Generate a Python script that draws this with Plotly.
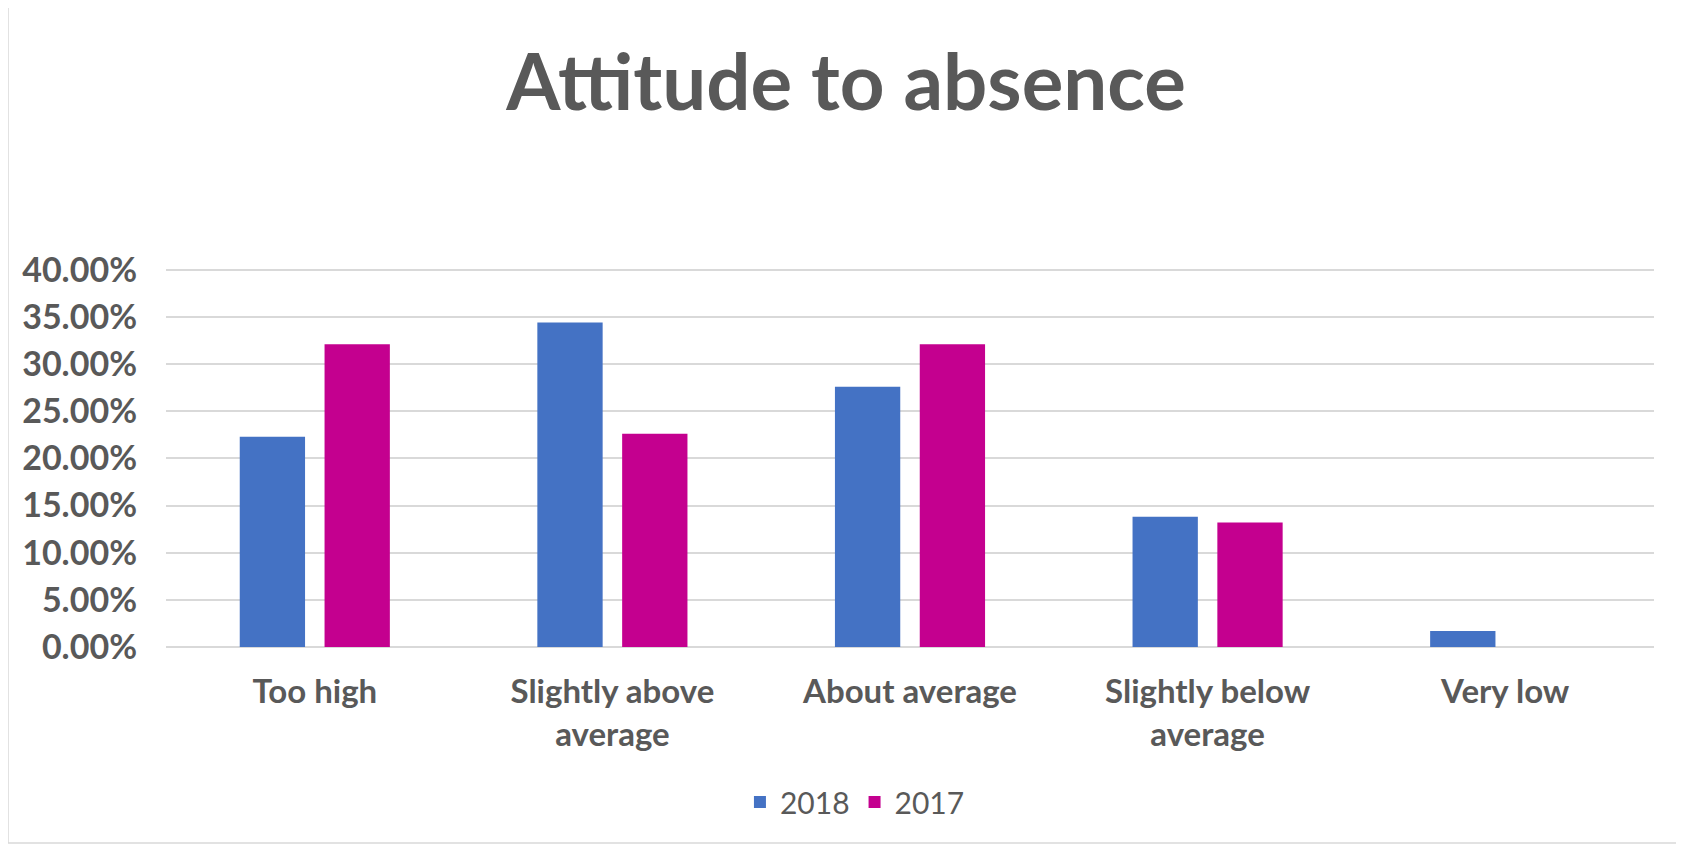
import plotly.graph_objects as go

categories = ["Too high", "Slightly above<br>average", "About average", "Slightly below<br>average", "Very low"]
series_names = ["2018", "2017"]
values_2018 = [0.223, 0.344, 0.276, 0.138, 0.017]
values_2017 = [0.321, 0.226, 0.321, 0.132, 0.0]
y_ticks = [0, 0.05, 0.1, 0.15, 0.2, 0.25, 0.3, 0.35, 0.4]
colors = ["#4472C4", "#C4008F"]

# page body has an 8px offset
W, H = 1676, 837
L, R, T, B = 158, 30, 257, 198
pw = W - L - R
ph = H - T - B

fig = go.Figure()
for name, vals, c in zip(series_names, [values_2018, values_2017], colors):
    fig.add_trace(go.Bar(x=categories, y=vals, name=name, marker=dict(color=c, line=dict(width=0))))

fig.add_shape(type="rect", xref="paper", yref="paper",
              x0=(0 - L) / pw, x1=(W - 6 - L) / pw,
              y0=(H - B - (H - 2)) / ph, y1=(H - B + 6) / ph,
              line=dict(color="#D9D9D9", width=1.5), layer="below")

fig.update_layout(
    width=W, height=H,
    margin=dict(l=L, r=R, t=T, b=B, autoexpand=False),
    paper_bgcolor="white", plot_bgcolor="white",
    title=dict(text="<b>Attitude to absence</b>", x=0.5, xref="container", xanchor="center",
               y=1 - 75 / H, yanchor="middle",
               font=dict(family="Lato", size=78, color="#595959")),
    barmode="group", bargap=0.43, bargroupgap=0.23,
    font=dict(family="Lato", color="#595959"),
    legend=dict(orientation="h", x=0.463, xanchor="center", y=-(794 - (H - B)) / ph, yanchor="middle",
                font=dict(size=30, color="#595959"), traceorder="normal", itemwidth=30),
    xaxis=dict(tickfont=dict(size=33, color="#595959", family="Lato", weight="bold"),
               showline=False, ticks="", ticklabelstandoff=22),
    yaxis=dict(range=[0, 0.405], tickvals=y_ticks,
               tickformat=".2%", gridcolor="#D9D9D9", gridwidth=2,
               zeroline=True, zerolinecolor="#D9D9D9", zerolinewidth=2,
               tickfont=dict(size=34, color="#595959", family="Lato", weight="bold"),
               ticklabelstandoff=28),
)
fig.write_html("out.html")
